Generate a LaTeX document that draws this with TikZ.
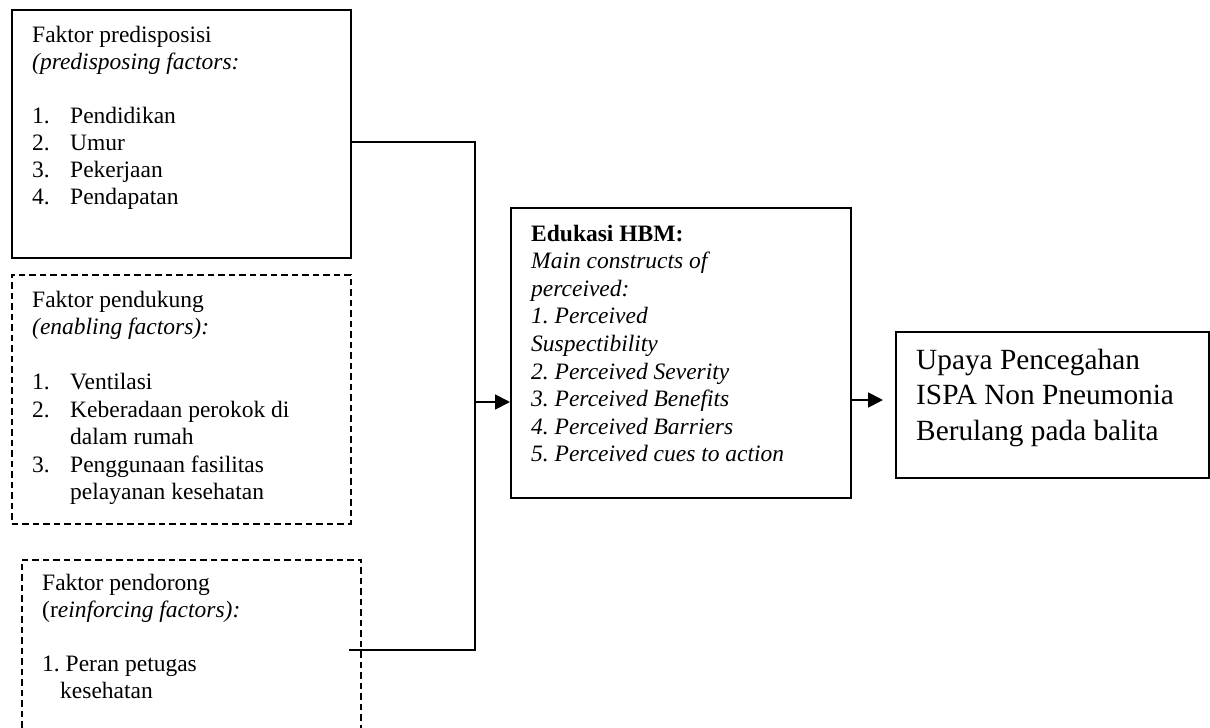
\documentclass[tikz,border=0pt]{standalone}
\usepackage{fontspec}
\setmainfont{Liberation Serif}
\usetikzlibrary{arrows.meta}
\frenchspacing
\newcommand{\itm}[1]{\makebox[38pt][l]{#1}}
\begin{document}
\begin{tikzpicture}[x=1pt,y=-1pt,
  boxline/.style={draw,line width=1.8pt,inner sep=0pt,anchor=north west},
  dbox/.style={boxline,line width=1.6pt,dash pattern=on 6.5pt off 4pt},
  txt/.style={inner sep=0pt,anchor=base west},
  conn/.style={line width=1.8pt},
  arr/.style={conn,-{Triangle[length=15pt,width=15pt]}}]
\useasboundingbox (0,0) rectangle (1210,728);
\fill[white] (0,0) rectangle (1210,728);
% boxes
\node[boxline,minimum width=339pt,minimum height=248pt] (b1) at (11,9) {};
\node[dbox,minimum width=339pt,minimum height=249pt] (b2) at (11,274) {};
\node[dbox,minimum width=339pt,minimum height=200pt] (b3) at (21,559) {};
\node[boxline,minimum width=340pt,minimum height=290pt] (hbm) at (510,207) {};
\node[boxline,minimum width=313pt,minimum height=146pt] (res) at (895,331) {};
% texts
\node[txt] (t1) at (32,42) {\parbox[t]{310pt}{\fontsize{23.5}{27}\selectfont
Faktor predisposisi\\
\textit{(predisposing factors:}\\
\mbox{}\\
\itm{1.}Pendidikan\\
\itm{2.}Umur\\
\itm{3.}Pekerjaan\\
\itm{4.}Pendapatan}};
\node[txt] (t2) at (32,307) {\parbox[t]{310pt}{\fontsize{23.5}{27.5}\selectfont
Faktor pendukung\\
\textit{(enabling factors):}\\
\mbox{}\\
\itm{1.}Ventilasi\\
\itm{2.}Keberadaan perokok di\\
\itm{}dalam rumah\\
\itm{3.}Penggunaan fasilitas\\
\itm{}pelayanan kesehatan}};
\node[txt] (t3) at (42,590) {\parbox[t]{310pt}{\fontsize{23.5}{27}\selectfont
Faktor pendorong\\
(r\textit{einforcing factors):}\\
\mbox{}\\
1. Peran petugas\\
\hspace*{18pt}kesehatan}};
\node[txt] (t4) at (531,241) {\parbox[t]{315pt}{\fontsize{23.5}{27.6}\selectfont
\textbf{Edukasi HBM:}\\
\textit{Main constructs of}\\
\textit{perceived:}\\
\textit{1. Perceived}\\
\textit{Suspectibility}\\
\textit{2. Perceived Severity}\\
\textit{3. Perceived Benefits}\\
\textit{4. Perceived Barriers}\\
\textit{5. Perceived cues to action}}};
\node[txt] (t5) at (916,369) {\parbox[t]{290pt}{\fontsize{29.3}{35.5}\selectfont
Upaya Pencegahan\\
ISPA Non Pneumonia\\
Berulang pada balita}};
% connectors
\coordinate (p1) at (b1.east |- 0,142);
\coordinate (j1) at (475,142);
\coordinate (p3) at (349,650);
\coordinate (j3) at (475,650);
\coordinate (j2) at (475,402);
\coordinate (h1) at (hbm.west |- 0,402);
\coordinate (h2) at (hbm.east |- 0,400);
\coordinate (r1) at (res.west |- 0,400);
\draw[conn] (p1) -- (j1) -- (j3) -- (p3);
\draw[arr] (j2) -- (h1);
\draw[arr,shorten >=12pt] (h2) -- (r1);
\end{tikzpicture}
\end{document}
